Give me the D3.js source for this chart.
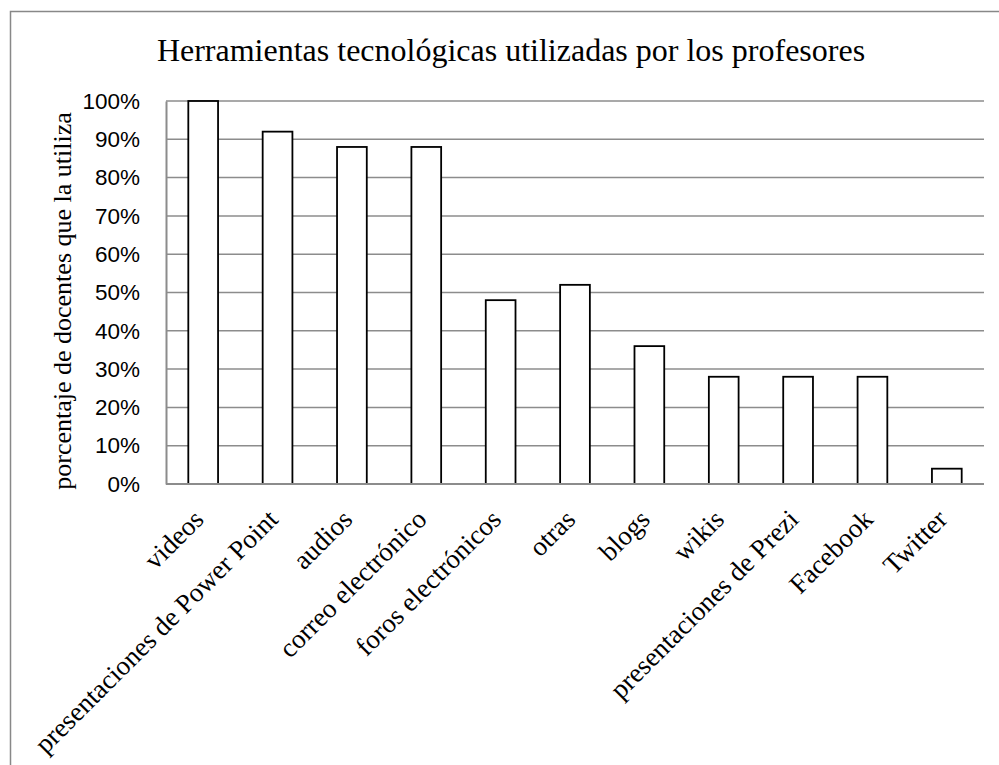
<html>
<head>
  <meta charset="utf-8">
  <script src="https://d3js.org/d3.v7.min.js"></script>
  <style>
    body { margin: 0; background: #fff; }
  </style>
</head>
<body>
  <div id="chart"></div>
  <script>

    // Categories and values
    var categories = ["videos", "presentaciones de Power Point", "audios", "correo electrónico",
      "foros electrónicos", "otras", "blogs", "wikis", "presentaciones de Prezi", "Facebook", "Twitter"];
    var values = [100, 92, 88, 88, 48, 52, 36, 28, 28, 28, 4];
    var yTicks = [0, 10, 20, 30, 40, 50, 60, 70, 80, 90, 100];

    var width = 999, height = 765;
    var plot = {left: 166, right: 984, top: 101, bottom: 484};

    var svg = d3.select("#chart")
      .append("svg")
        .attr("width", width)
        .attr("height", height);

    // outer frame (runs off the right and bottom of the picture)
    svg.append("rect")
      .attr("x", 10.5).attr("y", 11.5)
      .attr("width", 1000).attr("height", 800)
      .attr("fill", "none")
      .attr("stroke", "#888")
      .attr("stroke-width", 1.5);

    var x = d3.scaleBand()
      .domain(categories)
      .range([plot.left, plot.right])
      .paddingInner(0.6)
      .paddingOuter(0.3);

    var y = d3.scaleLinear()
      .domain([0, 100])
      .range([plot.bottom, plot.top]);

    // gridlines
    svg.append("g")
      .selectAll("line")
      .data(yTicks)
      .join("line")
        .attr("x1", plot.left).attr("x2", plot.right)
        .attr("y1", d => y(d)).attr("y2", d => y(d))
        .attr("stroke", "#8c8c8c")
        .attr("stroke-width", 1.5);

    // y axis
    var yAxis = svg.append("g")
      .attr("transform", `translate(${plot.left},0)`)
      .call(d3.axisLeft(y).tickValues(yTicks).tickSize(0).tickPadding(26).tickFormat(d => d + "%"));
    yAxis.select(".domain").attr("stroke", "#8c8c8c").attr("stroke-width", 2);
    yAxis.selectAll("text")
      .attr("font-family", "Liberation Sans, Arial, sans-serif")
      .attr("font-size", 22.5)
      .attr("fill", "#000");

    // bars
    svg.selectAll("rect.bar")
      .data(categories)
      .join("rect")
        .attr("class", "bar")
        .attr("x", d => x(d))
        .attr("y", (d, i) => y(values[i]))
        .attr("width", x.bandwidth())
        .attr("height", (d, i) => y(0) - y(values[i]))
        .attr("fill", "#fff")
        .attr("stroke", "#000")
        .attr("stroke-width", 1.8);

    // x axis line
    svg.append("line")
      .attr("x1", plot.left).attr("x2", plot.right)
      .attr("y1", plot.bottom).attr("y2", plot.bottom)
      .attr("stroke", "#8c8c8c")
      .attr("stroke-width", 2);

    // category labels, rotated
    svg.append("g")
      .selectAll("text")
      .data(categories)
      .join("text")
        .attr("transform", d => `translate(${x(d) + x.bandwidth() / 2 + 2},${plot.bottom + 37}) rotate(-45)`)
        .attr("text-anchor", "end")
        .attr("font-family", "Liberation Serif, Times New Roman, serif")
        .attr("font-size", 27)
        .text(d => d);

    // title
    svg.append("text")
      .attr("x", 511)
      .attr("y", 61)
      .attr("text-anchor", "middle")
      .attr("font-family", "Liberation Serif, Times New Roman, serif")
      .attr("font-size", 32)
      .text("Herramientas tecnológicas utilizadas por los profesores");

    // y axis title
    svg.append("text")
      .attr("transform", `translate(71,301) rotate(-90)`)
      .attr("text-anchor", "middle")
      .attr("font-family", "Liberation Serif, Times New Roman, serif")
      .attr("font-size", 26)
      .text("porcentaje de docentes que la utiliza");

  </script>
</body>
</html>
